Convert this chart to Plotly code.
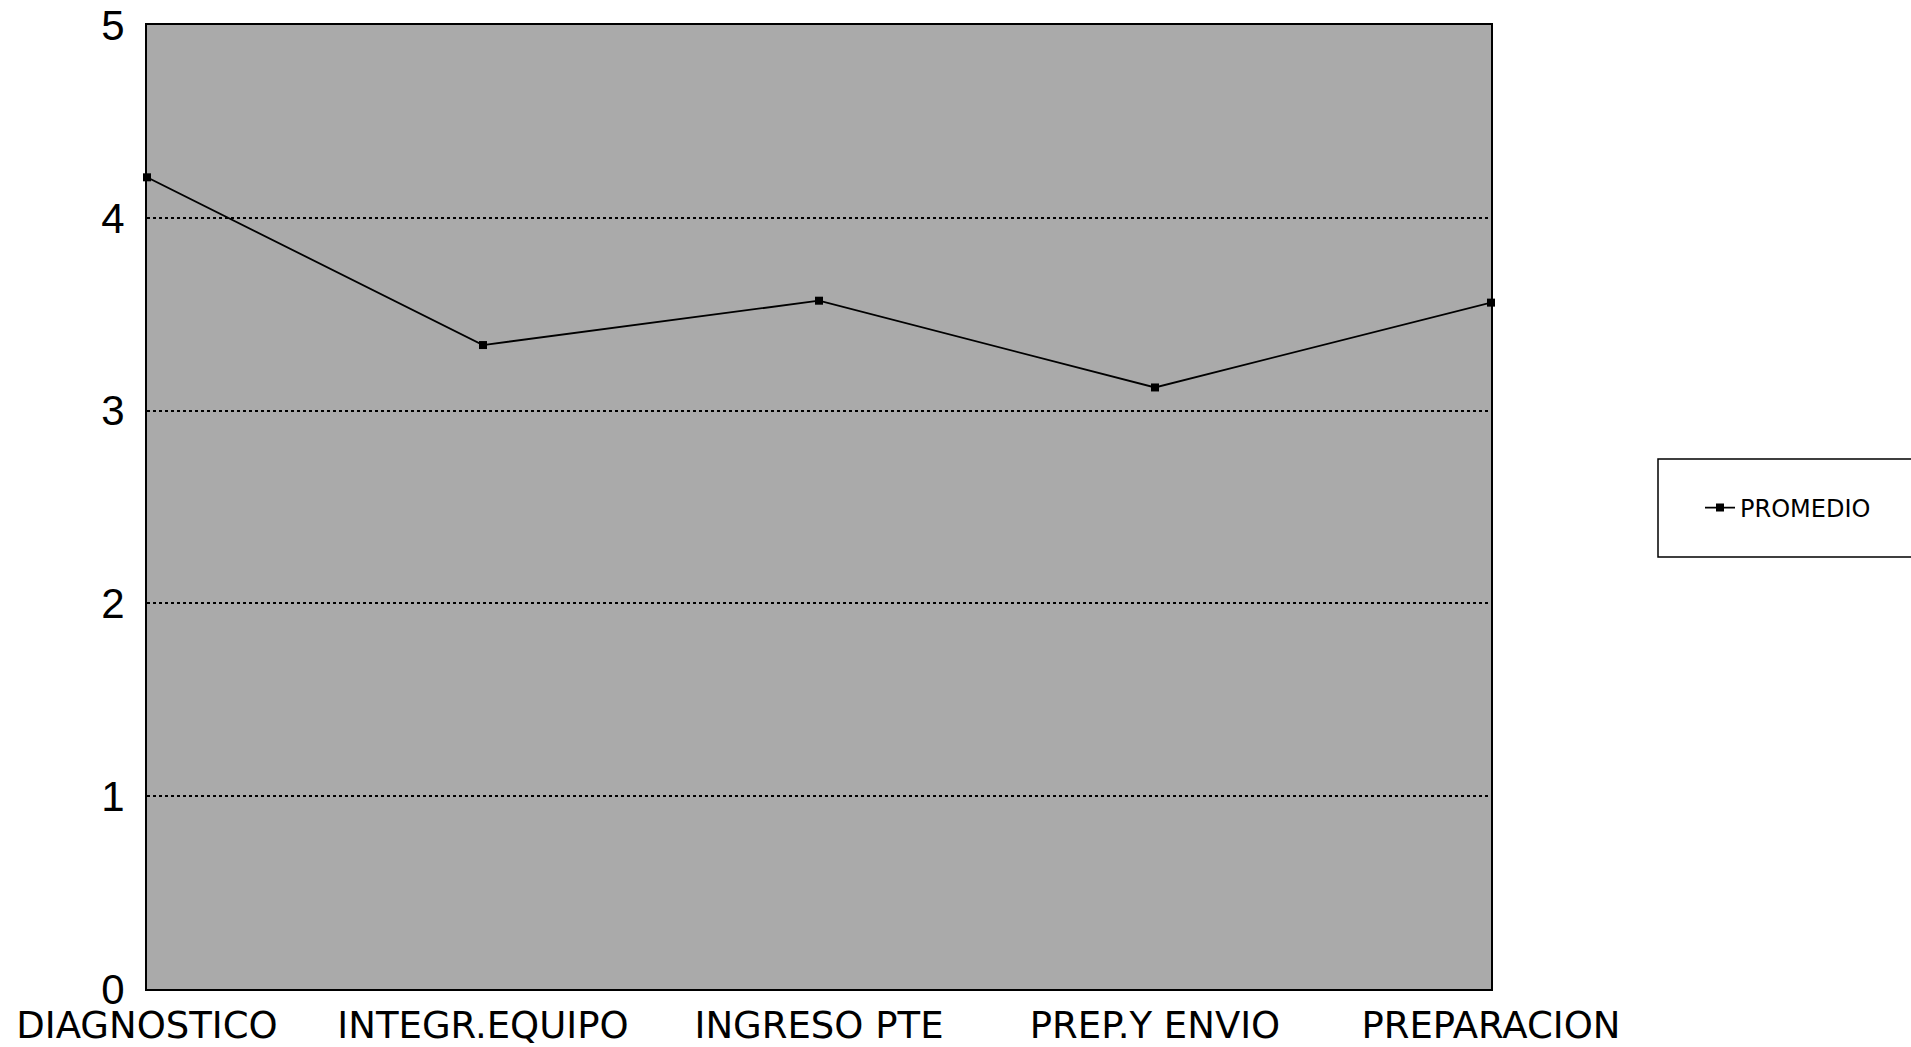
import plotly.graph_objects as go

categories = ["DIAGNOSTICO", "INTEGR.EQUIPO", "INGRESO PTE", "PREP.Y ENVIO", "PREPARACION"]
promedio = [4.21, 3.34, 3.57, 3.12, 3.56]
y_ticks = [0, 1, 2, 3, 4, 5]
series_name = "PROMEDIO"

fig = go.Figure()
fig.add_trace(go.Scatter(
    x=categories, y=promedio, name=series_name, mode="lines+markers",
    line=dict(color="black", width=1.8),
    marker=dict(symbol="square", size=8, color="black"),
    cliponaxis=False,
))

W, H = 1911, 1047
L, R, T, B = 147, 1491, 25, 989
pw, ph = R - L, B - T

def px(x):
    return (x - L) / pw

def py(y):
    return (B - y) / ph

fig.update_layout(
    width=W, height=H,
    margin=dict(l=L, r=W - R, t=T, b=H - B, autoexpand=False),
    paper_bgcolor="white",
    plot_bgcolor="#aaaaaa",
    showlegend=True,
    legend=dict(x=px(1700), y=py(508), xanchor="left", yanchor="middle",
                bgcolor="rgba(0,0,0,0)", borderwidth=0,
                font=dict(family="DejaVu Sans", size=24, color="black")),
    shapes=[dict(type="rect", xref="paper", yref="paper",
                 x0=px(1658), x1=px(1930), y0=py(557), y1=py(459),
                 line=dict(color="black", width=1.5), fillcolor="white", layer="below")],
)
fig.update_xaxes(
    type="category", range=[0, len(categories) - 1],
    showgrid=False, showline=True, linecolor="black", linewidth=2, mirror=True,
    ticks="", ticklabelstandoff=3, automargin=False,
    tickfont=dict(family="DejaVu Sans", size=37, color="black"),
)
fig.update_yaxes(
    range=[0, 5], tickvals=y_ticks, ticktext=[str(v) for v in y_ticks],
    showgrid=True, gridcolor="black", gridwidth=1.5, griddash="dot",
    zeroline=False, showline=True, linecolor="black", linewidth=2, mirror=True,
    ticks="", ticklabelstandoff=12, automargin=False,
    tickfont=dict(family="Liberation Sans", size=42, color="black"),
)

fig.write_html("out.html")
